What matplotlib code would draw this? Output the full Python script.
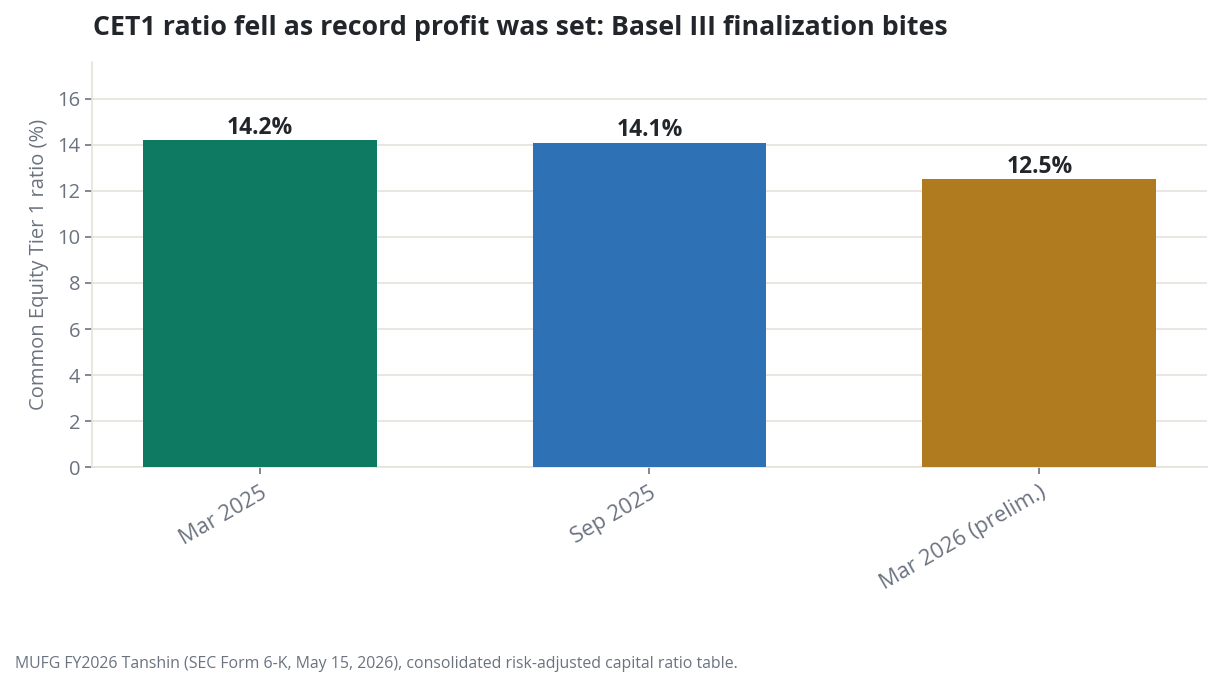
import matplotlib
matplotlib.use("Agg")
import matplotlib.pyplot as plt

categories = ["Mar 2025", "Sep 2025", "Mar 2026 (prelim.)"]
cet1_ratio = [14.2, 14.1, 12.5]
bar_colors = ["#0f7a62", "#2f71b5", "#b07a1f"]
title = "CET1 ratio fell as record profit was set: Basel III finalization bites"
ylabel = "Common Equity Tier 1 ratio (%)"
footer = "MUFG FY2026 Tanshin (SEC Form 6-K, May 15, 2026), consolidated risk-adjusted capital ratio table."

plt.rcParams['font.family'] = ['Open Sans', 'DejaVu Sans']

fig = plt.figure(figsize=(12.22, 6.89), dpi=100)
ax = fig.add_axes([0.0753, 0.3222, 0.9124, 0.5878])

x = list(range(len(categories)))
bars = ax.bar(x, cet1_ratio, width=0.6, color=bar_colors, zorder=3)
for b, v in zip(bars, cet1_ratio):
    ax.annotate(f"{v:.1f}%", (b.get_x() + b.get_width() / 2, v), xytext=(0, 0.5),
                textcoords="offset points", ha="center", va="bottom",
                fontsize=16.5, fontweight="bold", color="#22262b", zorder=4)

ax.set_ylim(0, max(cet1_ratio) * 1.24)
ax.set_yticks(range(0, 17, 2))
ax.set_xticks(x)
ax.set_xticklabels(categories, rotation=30, ha="right", rotation_mode="anchor")

grid_c = "#e6e2dc"
ax.grid(axis="y", color=grid_c, linewidth=1.2, zorder=0)
ax.set_axisbelow(True)
for s in ["top", "right"]:
    ax.spines[s].set_visible(False)
for s in ["left", "bottom"]:
    ax.spines[s].set_color(grid_c)
    ax.spines[s].set_linewidth(1.2)

tick_c = "#6b7280"
ax.tick_params(axis="both", colors=tick_c, labelsize=14.5, length=5, width=1.2)
ax.tick_params(axis="x", labelsize=15.8, pad=6)
ax.set_ylabel(ylabel, color=tick_c, fontsize=14.5, labelpad=6)

fig.text(0.076, 0.959, title, ha="left", va="center", fontsize=19.3,
         fontweight="bold", color="#22262b")
fig.text(0.012, 0.036, footer, ha="left", va="center", fontsize=11.4, color="#6b7280")

fig.savefig("out.png", dpi=100)
